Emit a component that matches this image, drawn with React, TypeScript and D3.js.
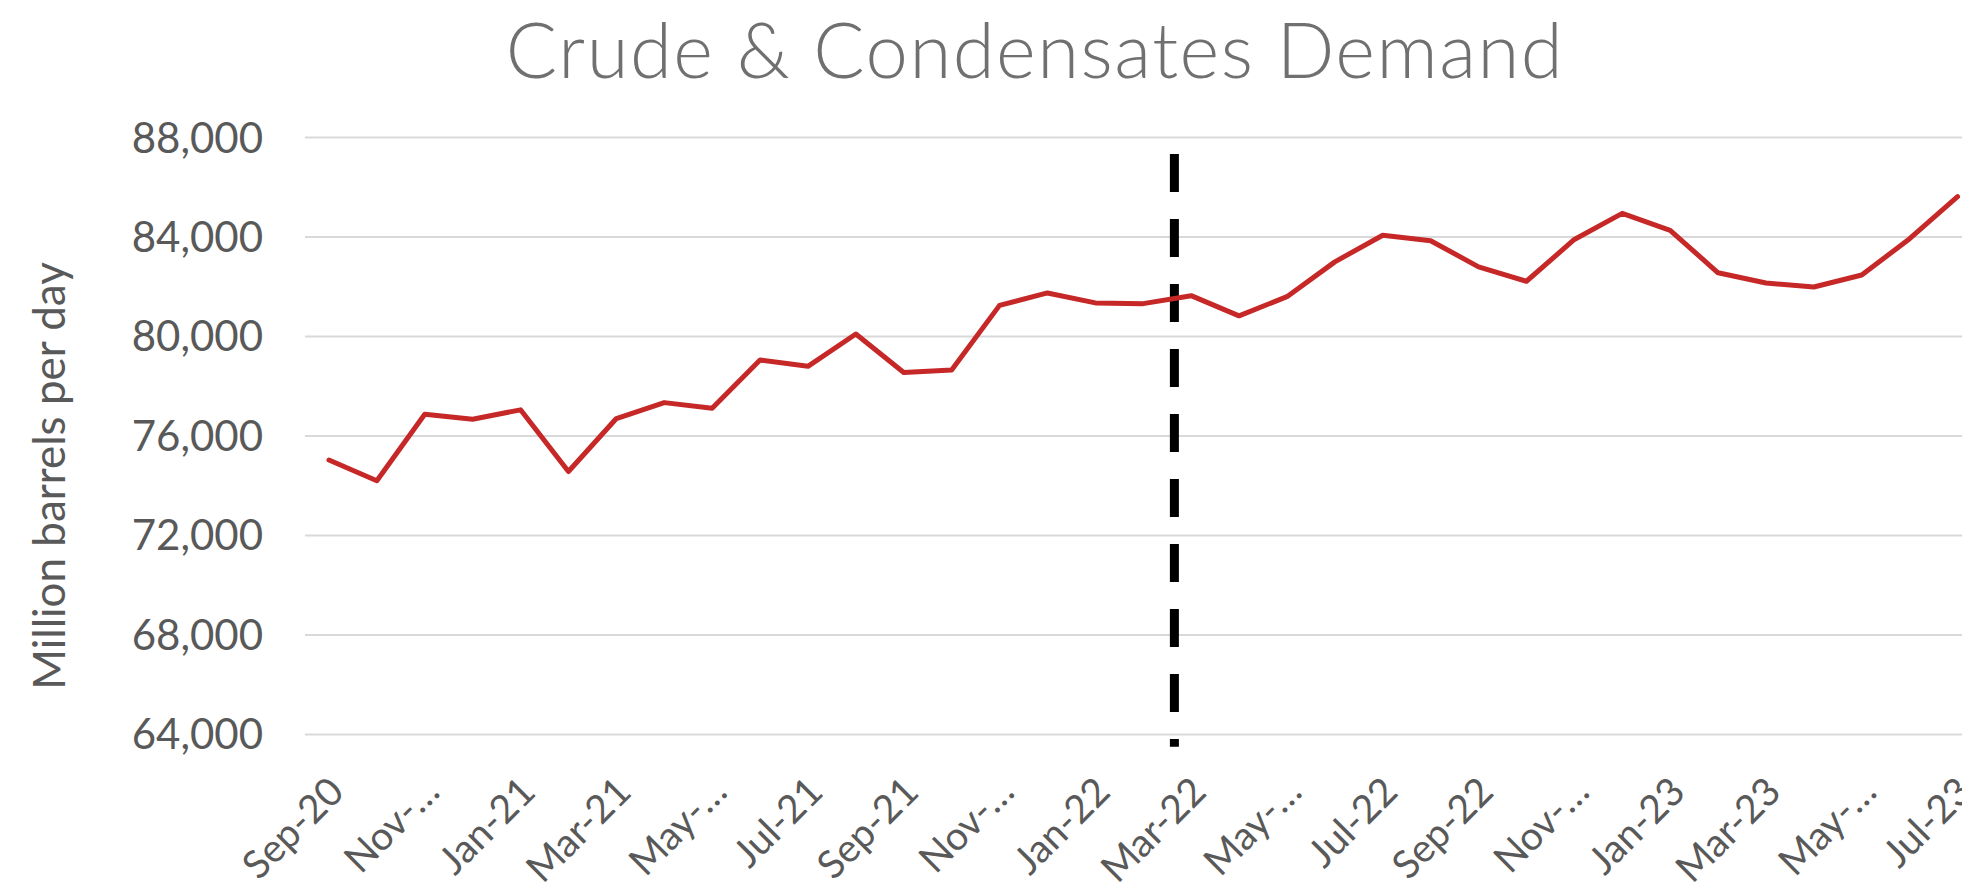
import React, { useEffect, useRef } from "react";
import * as d3 from "d3";

/** Months on the category axis. */
const months = [
  "Sep-20", "Oct-20", "Nov-20", "Dec-20", "Jan-21", "Feb-21", "Mar-21",
  "Apr-21", "May-21", "Jun-21", "Jul-21", "Aug-21", "Sep-21", "Oct-21",
  "Nov-21", "Dec-21", "Jan-22", "Feb-22", "Mar-22", "Apr-22", "May-22",
  "Jun-22", "Jul-22", "Aug-22", "Sep-22", "Oct-22", "Nov-22", "Dec-22",
  "Jan-23", "Feb-23", "Mar-23", "Apr-23", "May-23", "Jun-23", "Jul-23",
];

/** Crude & condensates demand per month. */
const demand = [
  75030, 74200, 76870, 76670, 77050, 74570, 76700,
  77340, 77110, 79050, 78800, 80100, 78550, 78650,
  81250, 81750, 81350, 81320, 81640, 80830, 81600,
  83000, 84070, 83850, 82800, 82220, 83900, 84950,
  84270, 82560, 82150, 81990, 82470, 83930, 85620,
];

/** Labels shown under every other month (Excel truncates the long ones). */
const tickMonths = [
  "Sep-20", "Nov-20", "Jan-21", "Mar-21", "May-21", "Jul-21", "Sep-21",
  "Nov-21", "Jan-22", "Mar-22", "May-22", "Jul-22", "Sep-22", "Nov-22",
  "Jan-23", "Mar-23", "May-23", "Jul-23",
];
const tickLabels = [
  "Sep-20", "Nov-…", "Jan-21", "Mar-21", "May-…", "Jul-21", "Sep-21",
  "Nov-…", "Jan-22", "Mar-22", "May-…", "Jul-22", "Sep-22", "Nov-…",
  "Jan-23", "Mar-23", "May-…", "Jul-23",
];

/** Value axis ticks. */
const yTicks = [64000, 68000, 72000, 76000, 80000, 84000, 88000];

/** Dashed marker between Feb-22 and Mar-22. */
const markerAfter = "Feb-22";
const markerOffset = 0.65;
const markerRange = [63500, 87340];

const title = "Crude & Condensates Demand";
const yTitle = "Million barrels per day";

const font = "Lato, 'Open Sans', sans-serif";

export default function App() {
  const ref = useRef<SVGSVGElement>(null);

  useEffect(() => {
    const width = 1962,
      step = 47.9,
      left = 305,
      right = left + step * months.length;

    const svg = d3.select(ref.current);
    svg.selectAll("*").remove();

    // Scales
    const x = d3.scalePoint<string>().domain(months).range([left, right]).padding(0.5);
    const y = d3.scaleLinear().domain([64000, 88000]).range([734.4, 137.5]);

    // Gridlines
    svg
      .append("g")
      .selectAll("line")
      .data(yTicks)
      .enter()
      .append("line")
      .attr("x1", left)
      .attr("x2", width)
      .attr("y1", (d) => y(d))
      .attr("y2", (d) => y(d))
      .attr("stroke", "#d9d9d9")
      .attr("stroke-width", 2);

    // Value labels
    svg
      .append("g")
      .selectAll("text")
      .data(yTicks)
      .enter()
      .append("text")
      .attr("x", 263)
      .attr("y", (d) => y(d) + 15)
      .attr("text-anchor", "end")
      .attr("font-family", font)
      .attr("font-size", 42)
      .attr("fill", "#595959")
      .text((d) => d3.format(",")(d));

    // Category labels, rotated
    svg
      .append("g")
      .selectAll("text")
      .data(tickMonths)
      .enter()
      .append("text")
      .attr("transform", (d) => `translate(${(x(d) as number) + 17}, 794) rotate(-45)`)
      .attr("text-anchor", "end")
      .attr("font-family", font)
      .attr("font-size", 39)
      .attr("fill", "#595959")
      .text((d, i) => tickLabels[i]);

    // Dashed marker
    const mx = (x(markerAfter) as number) + markerOffset * x.step();
    svg
      .append("line")
      .attr("x1", mx)
      .attr("x2", mx)
      .attr("y1", y(markerRange[1]))
      .attr("y2", y(markerRange[0]))
      .attr("stroke", "#000")
      .attr("stroke-width", 9)
      .attr("stroke-dasharray", "38 27");

    // Demand line
    const line = d3
      .line<number>()
      .x((d, i) => x(months[i]) as number)
      .y((d) => y(d));

    svg
      .append("path")
      .datum(demand)
      .attr("d", line)
      .attr("fill", "none")
      .attr("stroke", "#c62828")
      .attr("stroke-width", 5)
      .attr("stroke-linejoin", "round")
      .attr("stroke-linecap", "round");

    // Title
    svg
      .append("text")
      .attr("x", 1035)
      .attr("y", 78)
      .attr("text-anchor", "middle")
      .attr("font-family", font)
      .attr("font-size", 76)
      .attr("font-weight", 300)
      .attr("letter-spacing", 1.5)
      .attr("fill", "#707070")
      .text(title);

    // Axis title
    svg
      .append("text")
      .attr("transform", `translate(65, 476) rotate(-90)`)
      .attr("text-anchor", "middle")
      .attr("font-family", font)
      .attr("font-size", 44)
      .attr("fill", "#595959")
      .text(yTitle);
  }, []);

  return (
    <svg
      ref={ref}
      width={1962}
      height={889}
      style={{ position: "absolute", left: 0, top: 0, background: "#fff" }}
    />
  );
}
